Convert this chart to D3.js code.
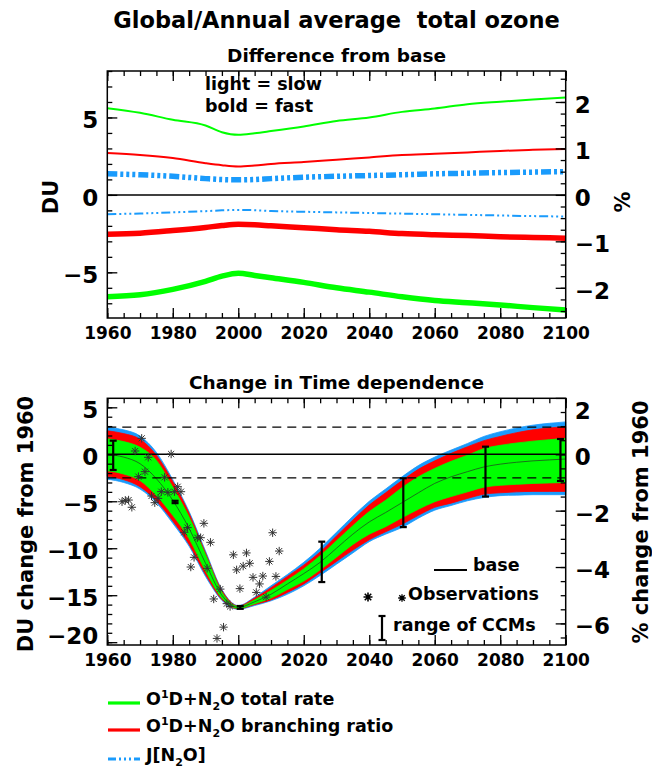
<!DOCTYPE html>
<html>
<head>
<meta charset="utf-8">
<script src="https://cdn.jsdelivr.net/npm/d3@7"></script>
<style>
  body { margin: 0; background: #fff; }
  text { font-family: "DejaVu Sans", sans-serif; font-weight: bold; fill: #000; }
</style>
</head>
<body>
<svg id="chart" width="652" height="769"></svg>
<script>
// ---- top panel: difference from base (DU) ----
var topYears = [1960, 1970, 1980, 1990, 1995, 2000, 2005, 2010, 2020, 2030, 2040, 2050, 2060, 2070, 2080, 2090, 2100];
var slowTotalRate = [5.6, 5.3, 4.85, 4.48, 4.05, 3.88, 3.98, 4.12, 4.42, 4.77, 5.0, 5.36, 5.58, 5.86, 6.02, 6.16, 6.29];
var slowBranching = [2.7, 2.58, 2.38, 2.05, 1.92, 1.84, 1.9, 2.0, 2.12, 2.27, 2.42, 2.57, 2.65, 2.74, 2.84, 2.91, 2.97];
var slowJN2O = [-1.25, -1.2, -1.13, -1.05, -1.0, -0.97, -0.99, -1.04, -1.09, -1.13, -1.17, -1.21, -1.25, -1.29, -1.33, -1.37, -1.4];
var fastTotalRate = [-6.57, -6.45, -6.1, -5.58, -5.25, -5.06, -5.2, -5.35, -5.65, -6.0, -6.28, -6.58, -6.82, -6.96, -7.11, -7.28, -7.44];
var fastBranching = [-2.54, -2.47, -2.3, -2.1, -1.98, -1.9, -1.93, -2.0, -2.12, -2.25, -2.35, -2.5, -2.58, -2.63, -2.7, -2.75, -2.8];
var fastJN2O = [1.36, 1.3, 1.2, 1.05, 0.99, 0.97, 0.99, 1.05, 1.14, 1.2, 1.25, 1.3, 1.36, 1.4, 1.44, 1.47, 1.5];

// ---- bottom panel: change from 1960 (DU) ----
var bandYears = [1960, 1965, 1970, 1975, 1980, 1985, 1990, 1995, 2000, 2005, 2010, 2015, 2020, 2025,
                 2030, 2035, 2040, 2045, 2050, 2055, 2060, 2065, 2070, 2075, 2080, 2085, 2090, 2095, 2100];
var baseChange = [0, -0.3, -1.0, -2.6, -4.9, -7.9, -11.6, -15.0, -16.3, -15.7, -14.9, -13.8, -12.7, -11.5,
                  -10.0, -8.5, -7.2, -6.2, -5.15, -4.1, -3.1, -2.4, -1.85, -1.35, -1.05, -0.85, -0.7, -0.6, -0.5];
var totalRateTop = [1.65, 1.35, 0.75, -0.65, -3.5, -6.7, -10.7, -14.7, -16.2, -15.5, -14.5, -13.4, -12.2, -10.8,
                    -9.2, -7.6, -6.1, -4.9, -3.55, -2.4, -1.5, -0.75, -0.1, 0.6, 0.95, 1.2, 1.4, 1.55, 1.7];
var totalRateBot = [-1.75, -2.1, -2.8, -4.4, -6.5, -9.0, -12.4, -15.3, -16.4, -15.9, -15.3, -14.4, -13.5, -12.3,
                    -10.95, -9.6, -8.5, -7.7, -6.75, -5.85, -5.05, -4.5, -4.0, -3.5, -3.3, -3.2, -3.1, -3.05, -3.0];
var branchingTop = [2.5, 2.2, 1.6, -0.1, -2.9, -6.3, -10.5, -14.5, -16.15, -15.3, -14.2, -13.0, -11.8, -10.4,
                    -8.7, -7.0, -5.4, -4.1, -2.8, -1.6, -0.7, 0.1, 0.8, 1.45, 1.9, 2.3, 2.6, 2.8, 2.95];
var branchingBot = [-2.35, -2.7, -3.45, -4.95, -7.1, -9.6, -12.8, -15.45, -16.45, -16.0, -15.5, -14.7, -13.8, -12.6,
                    -11.4, -10.2, -9.1, -8.25, -7.45, -6.5, -5.65, -5.2, -4.7, -4.25, -4.1, -4.0, -3.95, -3.95, -3.95];
var jN2OTop = [2.85, 2.6, 1.95, 0.2, -2.7, -6.1, -10.3, -14.4, -16.1, -15.2, -14.0, -12.8, -11.5, -10.0,
               -8.3, -6.6, -5.0, -3.7, -2.4, -1.2, -0.3, 0.45, 1.15, 1.9, 2.4, 2.8, 3.1, 3.3, 3.45];
var jN2OBot = [-2.65, -3.0, -3.7, -5.15, -7.35, -9.8, -13.0, -15.55, -16.5, -16.1, -15.6, -14.9, -14.0, -12.9,
               -11.7, -10.5, -9.3, -8.5, -7.8, -6.8, -5.95, -5.45, -4.95, -4.6, -4.4, -4.35, -4.3, -4.3, -4.3];

// observed annual means (DU change from 1960)
var obsYears = [1964, 1965, 1966, 1967, 1968, 1969, 1970, 1971, 1972, 1973, 1974, 1975, 1976, 1977, 1978, 1979,
                1980, 1981, 1982, 1983, 1984, 1985, 1986, 1987, 1988, 1989, 1990, 1991, 1992, 1993, 1994, 1995,
                1996, 1997, 1998, 1999, 2000, 2001, 2002, 2003, 2004, 2005, 2006, 2007, 2008, 2009, 2010, 2011, 2012];
var obsValues = [-5.05, -4.9, -4.87, -5.64, 0.35, -2.38, 1.7, -1.85, -0.32, -4.44, -5.15, -4.69, -3.98, -2.45, -4.05, 0.03,
                 -3.98, -3.45, -3.98, -8.3, -7.8, -12.0, -10.97, -8.88, -8.88, -7.35, -12.14, -9.37, -15.4, -19.6, -14.35, -18.4,
                 -15.9, -16.2, -10.7, -12.3, -14.3, -11.9, -10.5, -11.6, -13.1, -14.7, -13.8, -12.96, -15.2, -11.4, -8.35, -13.0, -10.3];

// range of CCMs
var ccmYears = [1961.8, 1980.7, 2000.6, 2025.5, 2050.4, 2075.5, 2098.4];
var ccmMax = [1.45, -4.95, -16.15, -9.3, -2.55, 0.81, 1.63];
var ccmMin = [-1.67, -5.2, -16.45, -13.6, -7.75, -4.5, -2.84];
var obsSpread = [2.9, -2.5];   // dashed lines

var xTicks = [1960, 1980, 2000, 2020, 2040, 2060, 2080, 2100];
var duPerPercent = 3.0;

var green = "#00ff00", red = "#ff0000", blue = "#1a9bfc";

var svg = d3.select("#chart");

var x = d3.scaleLinear().domain([1960, 2100]).range([107.3, 565.7]);
var yTop = d3.scaleLinear().domain([-7.95, 8.0]).range([318, 71]);
var yBot = d3.scaleLinear().domain([-20.3, 5.96]).range([645, 398.3]);

function pctScale(y) {
  return d3.scaleLinear().domain(y.domain().map(function(d) { return d / duPerPercent; })).range(y.range());
}

function inDomain(vals, scale) {
  var dom = scale.domain();
  return vals.filter(function(v) { return v >= dom[0] - 1e-6 && v <= dom[1] + 1e-6; });
}

// draws minor + major ticks pointing into the box
function drawAxis(axisFn, scale, transform, major, minor, fontSize, labels, dy) {
  svg.append("g").attr("transform", transform)
    .call(axisFn(scale).tickValues(minor).tickSize(-5).tickFormat(""))
    .call(function(g) { g.select(".domain").remove(); })
    .selectAll("line").attr("stroke-width", 1.3);
  var g = svg.append("g").attr("transform", transform)
    .call(axisFn(scale).tickValues(major).tickSize(-10).tickPadding(9)
      .tickFormat(labels ? d3.format("d") : ""));
  g.select(".domain").remove();
  g.selectAll("line").attr("stroke-width", 1.3);
  g.selectAll("text").attr("font-size", fontSize).attr("font-family", "DejaVu Sans").attr("font-weight", "bold");
  if (dy) g.selectAll("text").attr("dy", dy);
  return g;
}

// labels sitting on the top / bottom edge are pushed inside the box
function clampLabels(g, s, r) {
  g.selectAll("text").filter(function(d) { return s(d) < r[1] + 4; }).attr("dy", "0.9em");
  g.selectAll("text").filter(function(d) { return s(d) > r[0] - 6; }).attr("dy", "0.05em");
}

function drawPanel(y, pctMajor, pctMinor, duMajor) {
  var r = y.range();
  var p = pctScale(y);
  var xr = x.range();
  drawAxis(d3.axisBottom, x, "translate(0," + r[0] + ")", xTicks, d3.range(1960, 2101, 5), 17, true);
  drawAxis(d3.axisTop, x, "translate(0," + r[1] + ")", xTicks, d3.range(1960, 2101, 5), 17, false);
  var duMinor = inDomain(d3.range(-25, 10, 1), y);
  var left = drawAxis(d3.axisLeft, y, "translate(" + xr[0] + ",0)", duMajor, duMinor, 23, true, "0.45em");
  var right = drawAxis(d3.axisRight, p, "translate(" + xr[1] + ",0)", pctMajor, inDomain(pctMinor, p), 23, true, "0.45em");
  clampLabels(left, y, r);
  clampLabels(right, p, r);
  svg.append("rect")
    .attr("x", xr[0]).attr("y", r[1])
    .attr("width", xr[1] - xr[0]).attr("height", r[0] - r[1])
    .attr("fill", "none").attr("stroke", "#000").attr("stroke-width", 1.5);
}

// ================= top panel =================
var topLine = function(vals) {
  return d3.line().x(function(d, i) { return x(topYears[i]); })
    .y(function(d) { return yTop(d); }).curve(d3.curveMonotoneX)(vals);
};

svg.append("line").attr("x1", x(1960)).attr("x2", x(2100))
  .attr("y1", yTop(0)).attr("y2", yTop(0)).attr("stroke", "#000").attr("stroke-width", 1.5);

var topSeries = [
  { vals: slowTotalRate, color: green, w: 2, dash: null },
  { vals: slowBranching, color: red, w: 2, dash: null },
  { vals: slowJN2O, color: blue, w: 2, dash: "9,3,2,3,2,3,2,3" },
  { vals: fastTotalRate, color: green, w: 5.5, dash: null },
  { vals: fastBranching, color: red, w: 5.5, dash: null },
  { vals: fastJN2O, color: blue, w: 5.5, dash: "10,3,3,3,3,3,3,3" }
];
topSeries.forEach(function(s) {
  svg.append("path").attr("d", topLine(s.vals))
    .attr("fill", "none").attr("stroke", s.color).attr("stroke-width", s.w)
    .attr("stroke-dasharray", s.dash);
});

drawPanel(yTop, [-2, -1, 0, 1, 2], d3.range(-2.75, 2.8, 0.25), [-5, 0, 5]);

svg.append("text").attr("x", 205).attr("y", 90).attr("font-size", 17.5).text("light = slow");
svg.append("text").attr("x", 205).attr("y", 112).attr("font-size", 17.5).text("bold = fast");

svg.append("text").attr("x", 336.5).attr("y", 28).attr("text-anchor", "middle")
  .attr("font-size", 22.5).text("Global/Annual average\u00a0\u00a0total ozone");
svg.append("text").attr("x", 336.5).attr("y", 62).attr("text-anchor", "middle")
  .attr("font-size", 18.5).text("Difference from base");
svg.append("text").attr("transform", "translate(58,197) rotate(-90)").attr("text-anchor", "middle")
  .attr("font-size", 21).text("DU");
svg.append("text").attr("transform", "translate(630,202) rotate(-90)").attr("text-anchor", "middle")
  .attr("font-size", 21).text("%");

// ================= bottom panel =================
function band(top, bot, color) {
  var area = d3.area()
    .x(function(d, i) { return x(bandYears[i]); })
    .y0(function(d, i) { return yBot(bot[i]); })
    .y1(function(d) { return yBot(d); })
    .curve(d3.curveMonotoneX);
  svg.append("path").attr("d", area(top)).attr("fill", color).attr("stroke", color).attr("stroke-width", 0.8);
}
band(jN2OTop, jN2OBot, blue);
band(branchingTop, branchingBot, red);
band(totalRateTop, totalRateBot, green);

svg.append("path")
  .attr("d", d3.line().x(function(d, i) { return x(bandYears[i]); })
    .y(function(d) { return yBot(d); }).curve(d3.curveMonotoneX)(baseChange))
  .attr("fill", "none").attr("stroke", "#1f4f1f").attr("stroke-width", 0.8);

svg.append("line").attr("x1", x(1960)).attr("x2", x(2100))
  .attr("y1", yBot(0)).attr("y2", yBot(0)).attr("stroke", "#000").attr("stroke-width", 1.5);
obsSpread.forEach(function(v) {
  svg.append("line").attr("x1", x(1960)).attr("x2", x(2100))
    .attr("y1", yBot(v)).attr("y2", yBot(v)).attr("stroke", "#000").attr("stroke-width", 1.3)
    .attr("stroke-dasharray", "9,6");
});

// asterisk symbol
function asterisk(cx, cy, r) {
  var d = r * 0.72;
  return "M" + (cx - r) + "," + cy + "L" + (cx + r) + "," + cy +
    "M" + cx + "," + (cy - r) + "L" + cx + "," + (cy + r) +
    "M" + (cx - d) + "," + (cy - d) + "L" + (cx + d) + "," + (cy + d) +
    "M" + (cx - d) + "," + (cy + d) + "L" + (cx + d) + "," + (cy - d);
}
svg.append("g").selectAll("path").data(obsValues).join("path")
  .attr("d", function(d, i) { return asterisk(x(obsYears[i] + 0.5), yBot(d), 4.2); })
  .attr("stroke", "#333").attr("stroke-width", 1).attr("fill", "none");

// CCM range bars
function rangeBar(g, cx, y1, y2) {
  g.append("line").attr("x1", cx).attr("x2", cx).attr("y1", y1).attr("y2", y2);
  g.append("line").attr("x1", cx - 3.5).attr("x2", cx + 3.5).attr("y1", y1).attr("y2", y1);
  g.append("line").attr("x1", cx - 3.5).attr("x2", cx + 3.5).attr("y1", y2).attr("y2", y2);
}
var bars = svg.append("g").attr("stroke", "#000").attr("stroke-width", 2.2);
ccmYears.forEach(function(yr, i) {
  rangeBar(bars, x(yr), yBot(ccmMax[i]), yBot(ccmMin[i]));
});

drawPanel(yBot, [-6, -4, -2, 0, 2], d3.range(-7, 2.1, 0.5), [-20, -15, -10, -5, 0, 5]);

svg.append("text").attr("x", 336.5).attr("y", 389).attr("text-anchor", "middle")
  .attr("font-size", 18.5).text("Change in Time dependence");
svg.append("text").attr("transform", "translate(33,524) rotate(-90)").attr("text-anchor", "middle")
  .attr("font-size", 21).text("DU change from 1960");
svg.append("text").attr("transform", "translate(648,522) rotate(-90)").attr("text-anchor", "middle")
  .attr("font-size", 21).text("% change from 1960");

// in-panel legend
svg.append("line").attr("x1", 434).attr("x2", 467).attr("y1", 570).attr("y2", 570)
  .attr("stroke", "#000").attr("stroke-width", 2);
svg.append("text").attr("x", 473).attr("y", 571).attr("font-size", 17.5).text("base");
svg.append("path").attr("d", asterisk(368, 597, 4.5)).attr("stroke", "#000").attr("stroke-width", 1.6);
svg.append("path").attr("d", asterisk(402, 598, 3.8)).attr("stroke", "#000").attr("stroke-width", 1.3);
svg.append("text").attr("x", 408).attr("y", 600).attr("font-size", 17.5).text("Observations");
rangeBar(svg.append("g").attr("stroke", "#000").attr("stroke-width", 2.2), 382, 616, 640);
svg.append("text").attr("x", 393).attr("y", 631).attr("font-size", 17.5).text("range of CCMs");

// bottom legend
var legendRows = [
  { color: green, y: 703, dash: null, parts: [["O"], ["1", "sup"], ["D+N"], ["2", "sub"], ["O total rate"]] },
  { color: red, y: 730, dash: null, parts: [["O"], ["1", "sup"], ["D+N"], ["2", "sub"], ["O branching ratio"]] },
  { color: blue, y: 759, dash: "8,3,2,3,2,3,2,3", parts: [["J[N"], ["2", "sub"], ["O]"]] }
];
legendRows.forEach(function(row) {
  svg.append("line").attr("x1", 108).attr("x2", 140).attr("y1", row.y).attr("y2", row.y)
    .attr("stroke", row.color).attr("stroke-width", 3.2).attr("stroke-dasharray", row.dash);
  var t = svg.append("text").attr("x", 146).attr("y", row.y + 2).attr("font-size", 17.5);
  var shift = 0;
  row.parts.forEach(function(p) {
    var dy = 0, fs = 17.5;
    if (p[1] === "sup") { dy = -7 - shift; shift = -7; fs = 11; }
    else if (p[1] === "sub") { dy = 5 - shift; shift = 5; fs = 11; }
    else { dy = -shift; shift = 0; }
    t.append("tspan").attr("dy", dy).attr("font-size", fs).text(p[0]);
  });
});
</script>
</body>
</html>
